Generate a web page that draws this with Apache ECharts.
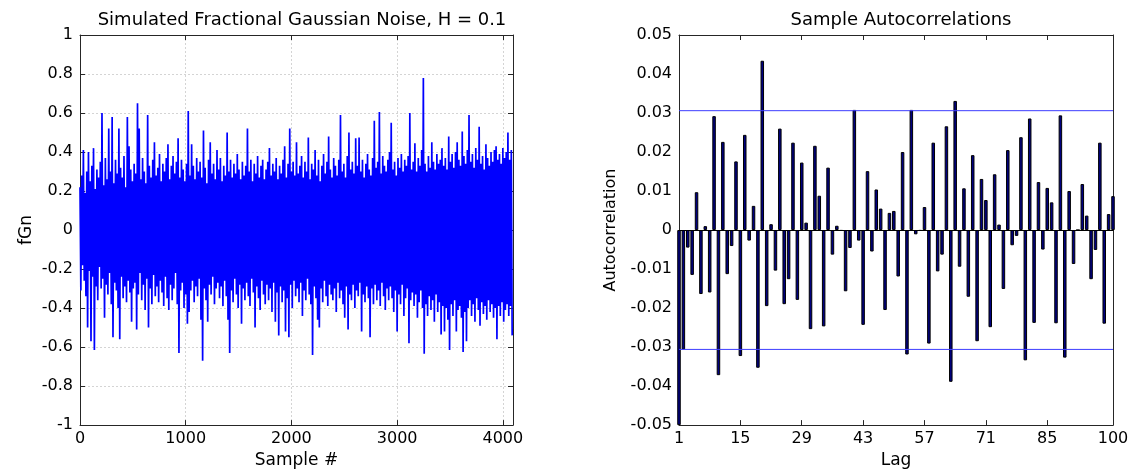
<!DOCTYPE html>
<html><head><meta charset="utf-8">
<script src="https://cdn.jsdelivr.net/npm/echarts@6/dist/echarts.min.js"></script>
<style>html,body{margin:0;padding:0;background:#fff}#c{width:1139px;height:474px}</style>
</head><body><div id="c"></div>
<script>
// ---- data ----
const sampleStep = 8; // one plotted value per 8 samples (envelope)
const fgnValues = [
 0.22,-0.31,0.28,-0.18,0.41,-0.26,0.19,-0.34,0.30,-0.50,0.40,-0.21,0.25,-0.57,0.33,-0.24,0.42,-0.615,0.21,-0.29,0.31,-0.36,0.27,-0.19,0.35,-0.30,0.60,-0.25,0.23,-0.45,0.37,-0.28,
 0.26,-0.33,0.52,-0.22,0.30,-0.38,0.58,-0.55,0.24,-0.27,0.36,-0.31,0.29,-0.40,0.52,-0.56,0.32,-0.24,0.27,-0.35,0.38,-0.29,0.22,-0.37,0.58,-0.26,0.43,-0.32,0.31,-0.47,0.25,-0.30,
 0.34,-0.27,0.29,-0.51,0.65,-0.33,0.52,-0.22,0.26,-0.36,0.37,-0.28,0.30,-0.41,0.24,-0.25,0.59,-0.50,0.33,-0.30,0.27,-0.38,0.36,-0.23,0.45,-0.34,0.28,-0.29,0.32,-0.37,0.39,-0.26,
 0.25,-0.32,0.34,-0.39,0.30,-0.24,0.37,-0.35,0.44,-0.41,0.26,-0.28,0.33,-0.36,0.38,-0.30,0.29,-0.22,0.35,-0.38,0.47,-0.63,0.27,-0.31,0.36,-0.27,0.31,-0.40,0.25,-0.33,0.34,-0.48,
 0.61,-0.42,0.28,-0.31,0.44,-0.26,0.33,-0.37,0.26,-0.29,0.37,-0.34,0.30,-0.25,0.35,-0.46,0.27,-0.67,0.51,-0.30,0.32,-0.36,0.24,-0.47,0.36,-0.28,0.45,-0.33,0.29,-0.24,0.34,-0.38,
 0.26,-0.30,0.41,-0.27,0.31,-0.35,0.37,-0.29,0.25,-0.39,0.33,-0.26,0.28,-0.34,0.50,-0.46,0.30,-0.63,0.36,-0.31,0.27,-0.37,0.34,-0.25,0.29,-0.33,0.39,-0.40,0.31,-0.28,0.26,-0.48,
 0.35,-0.30,0.28,-0.36,0.33,-0.27,0.52,-0.34,0.30,-0.39,0.36,-0.25,0.25,-0.32,0.34,-0.50,0.29,-0.29,0.38,-0.35,0.27,-0.41,0.33,-0.26,0.36,-0.33,0.26,-0.38,0.31,-0.28,0.35,-0.36,
 0.42,-0.30,0.28,-0.42,0.34,-0.27,0.30,-0.47,0.37,-0.32,0.26,-0.54,0.33,-0.29,0.29,-0.37,0.36,-0.31,0.43,-0.52,0.27,-0.35,0.34,-0.55,0.52,-0.28,0.30,-0.40,0.35,-0.26,0.28,-0.34,
 0.45,-0.30,0.29,-0.37,0.33,-0.27,0.38,-0.44,0.27,-0.31,0.35,-0.36,0.30,-0.25,0.475,-0.33,0.26,-0.38,0.34,-0.64,0.31,-0.29,0.41,-0.35,0.28,-0.46,0.36,-0.50,0.25,-0.30,0.33,-0.37,
 0.39,-0.26,0.29,-0.34,0.35,-0.39,0.48,-0.28,0.31,-0.33,0.27,-0.36,0.37,-0.30,0.33,-0.42,0.28,-0.27,0.36,-0.35,0.59,-0.31,0.30,-0.38,0.34,-0.45,0.27,-0.29,0.38,-0.51,0.50,-0.33,
 0.31,-0.36,0.35,-0.28,0.29,-0.40,0.47,-0.31,0.33,-0.34,0.475,-0.27,0.30,-0.52,0.36,-0.33,0.27,-0.37,0.34,-0.29,0.39,-0.35,0.31,-0.55,0.28,-0.30,0.37,-0.38,0.56,-0.28,0.32,-0.36,
 0.35,-0.31,0.605,-0.39,0.29,-0.27,0.38,-0.34,0.33,-0.41,0.30,-0.30,0.36,-0.36,0.40,-0.29,0.55,-0.35,0.31,-0.42,0.35,-0.31,0.28,-0.52,0.37,-0.33,0.32,-0.38,0.39,-0.28,0.30,-0.44,
 0.36,-0.35,0.33,-0.30,0.38,-0.58,0.60,-0.36,0.31,-0.32,0.35,-0.39,0.445,-0.33,0.30,-0.45,0.37,-0.37,0.33,-0.31,0.41,-0.40,0.78,-0.634,0.34,-0.38,0.30,-0.44,0.38,-0.34,0.32,-0.41,
 0.45,-0.36,0.35,-0.47,0.31,-0.33,0.39,-0.42,0.34,-0.37,0.36,-0.535,0.42,-0.39,0.33,-0.52,0.37,-0.40,0.31,-0.46,0.48,-0.615,0.35,-0.38,0.39,-0.44,0.32,-0.36,0.40,-0.52,0.45,-0.41,
 0.36,-0.39,0.33,-0.45,0.505,-0.625,0.38,-0.42,0.34,-0.57,0.41,-0.40,0.59,-0.36,0.35,-0.44,0.39,-0.38,0.32,-0.47,0.42,-0.35,0.36,-0.41,0.53,-0.49,0.34,-0.37,0.38,-0.43,0.31,-0.39,
 0.44,-0.46,0.37,-0.36,0.33,-0.42,0.40,-0.38,0.35,-0.45,0.41,-0.40,0.43,-0.56,0.36,-0.39,0.39,-0.44,0.34,-0.37,0.42,-0.47,0.37,-0.41,0.40,-0.38,0.50,-0.44,0.36,-0.39,0.41,-0.54
];
const sampleTickValues = [0, 1000, 2000, 3000, 4000];
const lags = [1,2,3,4,5,6,7,8,9,10,11,12,13,14,15,16,17,18,19,20,21,22,23,24,25,26,27,28,29,30,31,32,33,34,35,36,37,38,39,40,41,42,43,44,45,46,47,48,49,50,51,52,53,54,55,56,57,58,59,60,61,62,63,64,65,66,67,68,69,70,71,72,73,74,75,76,77,78,79,80,81,82,83,84,85,86,87,88,89,90,91,92,93,94,95,96,97,98,99,100];
const acfValues = [
 -0.05,-0.0306,-0.0045,-0.0115,0.0097,-0.0164,0.0010,-0.0160,0.0292,-0.0372,
 0.0226,-0.0113,-0.0041,0.0176,-0.0323,0.0244,-0.0027,0.0062,-0.0353,0.0434,
 -0.0195,0.0015,-0.0104,0.0260,-0.0190,-0.0126,0.0224,-0.0179,0.0173,0.0019,
 -0.0254,0.0216,0.0088,-0.0247,0.0160,-0.0063,0.0011,-0.0002,-0.0157,-0.0046,
 0.0308,-0.0027,-0.0243,0.0151,-0.0055,0.0104,0.0055,-0.0205,0.0044,0.0049,
 -0.0119,0.0200,-0.0319,0.0308,-0.0011,-0.0002,0.0059,-0.0291,0.0224,-0.0106,
 -0.0063,0.0266,-0.0389,0.0331,-0.0094,0.0107,-0.0171,0.0192,-0.0285,0.0131,
 0.0077,-0.0249,0.0143,0.0014,-0.0151,0.0205,-0.0039,-0.0015,0.0238,-0.0334,
 0.0286,-0.0238,0.0123,-0.0050,0.0108,0.0071,-0.0239,0.0294,-0.0327,0.0100,
 -0.0087,0.0000,0.0118,0.0037,-0.0126,-0.0051,0.0224,-0.0240,0.0041,0.0087
];
const lagTickLabels = [1, 15, 29, 43, 57, 71, 85, 100];
const confBound = 0.0306;

// ---- chart ----
const font = '"DejaVu Sans", sans-serif';
const txt = {fontFamily: font, fontSize: 16, color: '#000'};
const nameTxt = {fontFamily: font, fontSize: 17, color: '#000'};
const titleTxt = {fontFamily: font, fontSize: 18, color: '#000', fontWeight: 'normal'};
const fgnData = fgnValues.map((v, i) => [i * sampleStep, v]);
const showLag = (idx, val) => lagTickLabels.indexOf(Number(val)) >= 0;
const edge = {show: true, onZero: false, lineStyle: {color: '#262626', width: 1}};
const tickStyle = {inside: true, length: 5, lineStyle: {color: '#262626'}};
const gridLine = {show: true, lineStyle: {color: '#d4d4d4', type: [2, 2], width: 1}};
const firstLag = String(lags[0]), lastLag = String(lags[lags.length - 1]);
const confSeries = (b) => ({
  type: 'line', xAxisIndex: 2, yAxisIndex: 2, data: [[firstLag, b], [lastLag, b]],
  showSymbol: false, symbol: 'none', silent: true, z: 4, clip: false,
  lineStyle: {color: '#3d3dff', width: 1, type: 'solid'}
});

const chart = echarts.init(document.getElementById('c'), null, {renderer: 'canvas'});
chart.setOption({
  animation: false,
  backgroundColor: '#fff',
  title: [
    {text: 'Simulated Fractional Gaussian Noise, H = 0.1', left: 297, top: 6, textAlign: 'center', textStyle: titleTxt},
    {text: 'Sample Autocorrelations', left: 896, top: 6, textAlign: 'center', textStyle: titleTxt}
  ],
  grid: [
    {left: 80, top: 35, width: 433, height: 393, show: false},
    {left: 679, top: 35, width: 434, height: 393, show: false}
  ],
  xAxis: [
    {gridIndex: 0, type: 'value', min: 0, max: 4096, interval: 1000,
     axisLine: edge, axisTick: tickStyle,
     axisLabel: Object.assign({showMaxLabel: false, margin: 6, formatter: v => String(v)}, txt),
     splitLine: gridLine,
     name: 'Sample #', nameLocation: 'middle', nameGap: 26, nameTextStyle: nameTxt},
    {gridIndex: 0, type: 'value', min: 0, max: 4096, interval: 1000, position: 'top',
     axisLine: edge, axisTick: tickStyle, axisLabel: {show: false}, splitLine: {show: false}},
    {gridIndex: 1, type: 'category', data: lags.map(String), boundaryGap: false,
     axisLine: edge, axisTick: Object.assign({interval: showLag}, tickStyle),
     axisLabel: Object.assign({interval: showLag, margin: 6}, txt),
     splitLine: {show: false},
     name: 'Lag', nameLocation: 'middle', nameGap: 26, nameTextStyle: nameTxt},
    {gridIndex: 1, type: 'category', data: lags.map(String), boundaryGap: false, position: 'top',
     axisLine: edge, axisTick: Object.assign({interval: showLag}, tickStyle),
     axisLabel: {show: false}, splitLine: {show: false}},
    {gridIndex: 1, type: 'category', data: lags.map(String), boundaryGap: false, position: 'bottom',
     axisLine: {show: true, onZero: true, lineStyle: {color: '#000', width: 1}},
     axisTick: {show: false}, axisLabel: {show: false}, splitLine: {show: false}}
  ],
  yAxis: [
    {gridIndex: 0, type: 'value', min: -1, max: 1, interval: 0.2,
     axisLine: edge, axisTick: tickStyle,
     axisLabel: Object.assign({margin: 7}, txt),
     splitLine: gridLine,
     name: 'fGn', nameLocation: 'middle', nameGap: 45, nameRotate: 90, nameTextStyle: nameTxt},
    {gridIndex: 0, type: 'value', min: -1, max: 1, interval: 0.2, position: 'right',
     axisLine: edge, axisTick: tickStyle, axisLabel: {show: false}, splitLine: {show: false}},
    {gridIndex: 1, type: 'value', min: -0.05, max: 0.05, interval: 0.01,
     axisLine: edge, axisTick: tickStyle,
     axisLabel: Object.assign({margin: 7}, txt),
     splitLine: {show: false},
     name: 'Autocorrelation', nameLocation: 'middle', nameGap: 60, nameRotate: 90, nameTextStyle: txt},
    {gridIndex: 1, type: 'value', min: -0.05, max: 0.05, interval: 0.01, position: 'right',
     axisLine: edge, axisTick: tickStyle, axisLabel: {show: false}, splitLine: {show: false}}
  ],
  series: [
    {type: 'line', xAxisIndex: 0, yAxisIndex: 0, data: fgnData, showSymbol: false, symbol: 'none',
     sampling: false, clip: true, lineStyle: {color: '#0000ff', width: 1.7}, silent: true, z: 1},
    {type: 'bar', xAxisIndex: 2, yAxisIndex: 2, data: acfValues, barWidth: '80%', clip: true,
     itemStyle: {color: '#000080', borderColor: '#000', borderWidth: 1}, silent: true, z: 3},
    confSeries(confBound),
    confSeries(-confBound)
  ]
});
</script></body></html>
